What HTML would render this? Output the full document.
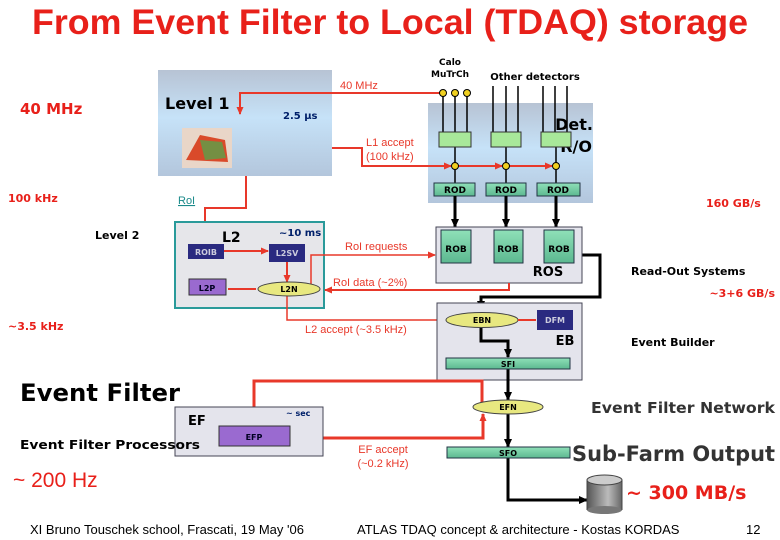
<!DOCTYPE html>
<html><head><meta charset="utf-8"><style>
body{margin:0;background:#fff}
svg{display:block}
text{font-family:"Liberation Sans",sans-serif}
.c{font-family:"DejaVu Sans","Liberation Sans",sans-serif;font-weight:bold}
</style></head><body>
<svg width="780" height="540" viewBox="0 0 780 540" xmlns="http://www.w3.org/2000/svg">
<defs>
<linearGradient id="bl" x1="0" y1="0" x2="0" y2="1"><stop offset="0" stop-color="#b7c3d4"/><stop offset="0.45" stop-color="#c6e2f8"/><stop offset="1" stop-color="#b3c6dc"/></linearGradient>
<linearGradient id="gr" x1="0" y1="0" x2="0" y2="1"><stop offset="0" stop-color="#8fe0b8"/><stop offset="1" stop-color="#5cb890"/></linearGradient>
<linearGradient id="cy" x1="0" y1="0" x2="1" y2="0"><stop offset="0" stop-color="#555"/><stop offset="0.6" stop-color="#bbb"/><stop offset="1" stop-color="#666"/></linearGradient>
<marker id="ar" markerUnits="userSpaceOnUse" markerWidth="8" markerHeight="8" refX="7" refY="4" orient="auto"><path d="M0,0.5L8,4L0,7.5z" fill="#e8382a"/></marker>
<marker id="ak" markerUnits="userSpaceOnUse" markerWidth="9" markerHeight="9" refX="8" refY="4.5" orient="auto"><path d="M0,0.5L9,4.5L0,8.5z" fill="#000"/></marker>
</defs>
<text x="390" y="34" text-anchor="middle" font-size="35" font-weight="bold" fill="#e8201a" textLength="716" lengthAdjust="spacingAndGlyphs">From Event Filter to Local (TDAQ) storage</text>

<!-- Level 1 box -->
<rect x="158" y="70" width="174" height="106" fill="url(#bl)"/>
<text x="165" y="109" class="c" font-size="16" fill="#000">Level 1</text>
<text x="283" y="119" class="c" font-size="10" fill="#00206a">2.5 µs</text>
<rect x="182" y="128" width="50" height="40" fill="#e9d6c8"/>
<path d="M186,160 L200,135 L225,140 L228,162 Z" fill="#d94a2a"/>
<path d="M200,140 L222,142 L226,158 L205,160 Z" fill="#5aa04a" opacity="0.8"/>

<!-- Det R/O -->
<rect x="428" y="103" width="165" height="100" fill="url(#bl)"/>
<text x="574" y="130" class="c" font-size="16" text-anchor="middle">Det.</text>
<text x="592" y="152" class="c" font-size="16" text-anchor="end">R/O</text>
<g stroke="#000" stroke-width="1.5">
<line x1="443" y1="93" x2="443" y2="132"/><line x1="455" y1="93" x2="455" y2="132"/><line x1="467" y1="93" x2="467" y2="132"/>
<line x1="493" y1="86" x2="493" y2="132"/><line x1="506" y1="86" x2="506" y2="132"/><line x1="518" y1="86" x2="518" y2="132"/>
<line x1="543" y1="86" x2="543" y2="132"/><line x1="555" y1="86" x2="555" y2="132"/><line x1="567" y1="86" x2="567" y2="132"/>
<line x1="455" y1="147" x2="455" y2="183"/><line x1="506" y1="147" x2="506" y2="183"/><line x1="556" y1="147" x2="556" y2="183"/>
</g>
<g fill="#a8e89a" stroke="#333" stroke-width="1">
<rect x="439" y="132" width="32" height="15"/><rect x="491" y="132" width="30" height="15"/><rect x="541" y="132" width="30" height="15"/>
</g>
<g fill="url(#gr)" stroke="#234" stroke-width="1" >
<rect x="434" y="183" width="41" height="13"/><rect x="486" y="183" width="40" height="13"/><rect x="537" y="183" width="43" height="13"/>
</g>
<g font-size="9" text-anchor="middle" fill="#000"><text x="455" y="193" class="c">ROD</text><text x="506" y="193" class="c">ROD</text><text x="558" y="193" class="c">ROD</text></g>
<text x="450" y="65" class="c" font-size="9" text-anchor="middle">Calo</text>
<text x="450" y="77" class="c" font-size="9" text-anchor="middle">MuTrCh</text>
<text x="535" y="80" class="c" font-size="10" text-anchor="middle">Other detectors</text>

<!-- red lines L1 -->
<g stroke="#e8382a" stroke-width="2" fill="none">
<path d="M443,93 L240,93 L240,114" marker-end="url(#ar)"/>
<path d="M332,148 L362,148 L362,166 L451,166" marker-end="url(#ar)"/>
<line x1="455" y1="166" x2="502" y2="166" marker-end="url(#ar)"/>
<line x1="506" y1="166" x2="552" y2="166" marker-end="url(#ar)"/>
<path d="M246,176 L246,208 L205,208 L205,243" marker-end="url(#ar)"/>
</g>
<g fill="#f0d020" stroke="#000" stroke-width="1">
<circle cx="443" cy="93" r="3.5"/><circle cx="455" cy="93" r="3.5"/><circle cx="467" cy="93" r="3.5"/>
<circle cx="455" cy="166" r="3.5"/><circle cx="506" cy="166" r="3.5"/><circle cx="556" cy="166" r="3.5"/>
</g>
<text x="340" y="89" font-size="11" fill="#e8382a">40 MHz</text>
<text x="366" y="146" font-size="11" fill="#e8382a">L1 accept</text>
<text x="366" y="160" font-size="11" fill="#e8382a">(100 kHz)</text>
<text x="178" y="204" font-size="11" fill="#1a8a8a" text-decoration="underline">RoI</text>

<!-- black thick ROD->ROB -->
<g stroke="#000" stroke-width="3" fill="none">
<line x1="455" y1="196" x2="455" y2="227" marker-end="url(#ak)"/>
<line x1="506" y1="196" x2="506" y2="227" marker-end="url(#ak)"/>
<line x1="556" y1="196" x2="556" y2="227" marker-end="url(#ak)"/>
<path d="M582,255 L600,255 L600,297 L481,297 L481,309" marker-end="url(#ak)"/>
</g>
<!-- ROS -->
<rect x="436" y="227" width="146" height="56" fill="#e4e4ec" stroke="#445" stroke-width="1"/>
<g fill="url(#gr)" stroke="#234"><rect x="441" y="230" width="30" height="33"/><rect x="494" y="230" width="29" height="33"/><rect x="544" y="230" width="30" height="33"/></g>
<text x="456" y="252" class="c" font-size="9" text-anchor="middle">ROB</text>
<text x="508" y="252" class="c" font-size="9" text-anchor="middle">ROB</text>
<text x="559" y="252" class="c" font-size="9" text-anchor="middle">ROB</text>
<text x="548" y="276" class="c" font-size="13" text-anchor="middle" font-weight="normal">ROS</text>

<!-- L2 box -->
<rect x="175" y="222" width="149" height="86" fill="#e6e6ea" stroke="#2a9a9a" stroke-width="2"/>
<text x="222" y="242" class="c" font-size="14" font-weight="normal">L2</text>
<text x="279" y="236" class="c" font-size="10" fill="#00206a">~10 ms</text>
<rect x="188" y="244" width="36" height="15" fill="#2a2a80"/>
<text x="206" y="255" class="c" font-size="8" fill="#ccd" text-anchor="middle">ROIB</text>
<rect x="269" y="244" width="36" height="18" fill="#2a2a80"/>
<text x="287" y="256" class="c" font-size="8" fill="#ccd" text-anchor="middle">L2SV</text>
<rect x="189" y="279" width="37" height="16" fill="#9a6ad0" stroke="#333"/>
<text x="207" y="291" class="c" font-size="8" fill="#002" text-anchor="middle">L2P</text>
<g stroke="#e8382a" stroke-width="2" fill="none">
<line x1="224" y1="251" x2="268" y2="251" marker-end="url(#ar)"/>
<line x1="287" y1="262" x2="287" y2="282" marker-end="url(#ar)"/>
<line x1="228" y1="289" x2="256" y2="289"/>
<path d="M311,289 L311,255 L435,255" stroke-width="1.5" marker-end="url(#ar)"/>
<path d="M509,283 L509,290 L325,290" marker-end="url(#ar)"/>
<path d="M287,296 L287,320 L445,320" stroke-width="1.5" marker-end="url(#ar)"/>
</g>
<ellipse cx="289" cy="289" rx="31" ry="7" fill="#e8e880" stroke="#444"/>
<text x="289" y="292" class="c" font-size="8" text-anchor="middle">L2N</text>
<text x="345" y="250" font-size="11" fill="#e8382a">RoI requests</text>
<text x="333" y="286" font-size="11" fill="#e8382a">RoI data (~2%)</text>
<text x="305" y="333" font-size="11" fill="#e8382a">L2 accept (~3.5 kHz)</text>

<!-- EB -->
<rect x="437" y="303" width="145" height="77" fill="#e4e4ec" stroke="#445"/>
<g stroke="#000" stroke-width="3" fill="none">
<path d="M481,327 L481,341 L508,341 L508,357" marker-end="url(#ak)"/>
<line x1="508" y1="369" x2="508" y2="400" marker-end="url(#ak)"/>
<line x1="508" y1="414" x2="508" y2="447" marker-end="url(#ak)"/>
<path d="M508,458 L508,500 L587,500" marker-end="url(#ak)"/>
</g>
<ellipse cx="482" cy="320" rx="36" ry="7.5" fill="#e8e880" stroke="#444"/>
<text x="482" y="323" class="c" font-size="8" text-anchor="middle">EBN</text>
<line x1="518" y1="320" x2="536" y2="320" stroke="#e8382a" stroke-width="2"/>
<rect x="537" y="310" width="36" height="20" fill="#2a2a80"/>
<text x="555" y="323" class="c" font-size="8" fill="#ccd" text-anchor="middle">DFM</text>
<text x="565" y="345" class="c" font-size="13" text-anchor="middle" font-weight="normal">EB</text>
<rect x="446" y="358" width="124" height="11" fill="url(#gr)" stroke="#234"/>
<text x="508" y="367" class="c" font-size="8" text-anchor="middle">SFI</text>

<!-- EF -->
<g stroke="#e8382a" stroke-width="3" fill="none">
<path d="M482,406 L482,381 L254,381 L254,425" marker-end="url(#ar)"/>
<path d="M290,438 L483,438 L483,414" marker-end="url(#ar)"/>
</g>
<ellipse cx="508" cy="407" rx="35" ry="7" fill="#e8e880" stroke="#444"/>
<text x="508" y="410" class="c" font-size="8" text-anchor="middle">EFN</text>
<rect x="447" y="447" width="123" height="11" fill="url(#gr)" stroke="#234"/>
<text x="508" y="456" class="c" font-size="8" text-anchor="middle">SFO</text>
<rect x="175" y="407" width="148" height="49" fill="#e4e4ec" stroke="#445"/>
<text x="188" y="425" class="c" font-size="13" font-weight="normal">EF</text>
<text x="286" y="416" class="c" font-size="8" fill="#00206a">~ sec</text>
<rect x="219" y="426" width="71" height="20" fill="#9a6ad0" stroke="#333"/>
<text x="254" y="440" class="c" font-size="8" fill="#002" text-anchor="middle">EFP</text>
<text x="383" y="453" font-size="11" fill="#e8382a" text-anchor="middle">EF accept</text>
<text x="383" y="467" font-size="11" fill="#e8382a" text-anchor="middle">(~0.2 kHz)</text>

<!-- cylinder -->
<rect x="587" y="480" width="35" height="30" fill="url(#cy)"/>
<ellipse cx="604.5" cy="510" rx="17.5" ry="4" fill="#777"/>
<ellipse cx="604.5" cy="480" rx="17.5" ry="5" fill="#ccc" stroke="#444"/>
<line x1="587" y1="480" x2="587" y2="510" stroke="#444"/><line x1="622" y1="480" x2="622" y2="510" stroke="#444"/>

<!-- side labels -->
<text x="20" y="114" class="c" font-size="15" font-weight="normal" fill="#e8201a">40 MHz</text>
<text x="8" y="202" class="c" font-size="11" fill="#e8201a" font-weight="normal">100 kHz</text>
<text x="95" y="239" class="c" font-size="11" font-weight="normal">Level 2</text>
<text x="8" y="330" class="c" font-size="11" fill="#e8201a" font-weight="normal">~3.5 kHz</text>
<text x="20" y="401" class="c" font-size="24" textLength="160" lengthAdjust="spacingAndGlyphs">Event Filter</text>
<text x="20" y="449" class="c" font-size="12" textLength="180" lengthAdjust="spacingAndGlyphs">Event Filter Processors</text>
<text x="13" y="487" font-size="21" fill="#e8201a">~ 200 Hz</text>
<text x="706" y="207" class="c" font-size="11" fill="#e8201a" font-weight="normal">160 GB/s</text>
<text x="631" y="275" class="c" font-size="11" font-weight="normal">Read-Out Systems</text>
<text x="775" y="297" class="c" font-size="11" fill="#e8201a" font-weight="normal" text-anchor="end">~3+6 GB/s</text>
<text x="631" y="346" class="c" font-size="11" font-weight="normal">Event Builder</text>
<text x="591" y="413" class="c" font-size="15" fill="#333" textLength="184" lengthAdjust="spacingAndGlyphs">Event Filter Network</text>
<text x="572" y="461" class="c" font-size="21" fill="#333" font-weight="normal" textLength="203" lengthAdjust="spacingAndGlyphs">Sub-Farm Output</text>
<text x="626" y="499" class="c" font-size="19" fill="#e8201a">~ 300 MB/s</text>
<text x="30" y="534" font-size="13">XI Bruno Touschek school, Frascati, 19 May '06</text>
<text x="357" y="534" font-size="13">ATLAS TDAQ concept &amp; architecture - Kostas KORDAS</text>
<text x="746" y="534" font-size="13">12</text>
</svg>
</body></html>
